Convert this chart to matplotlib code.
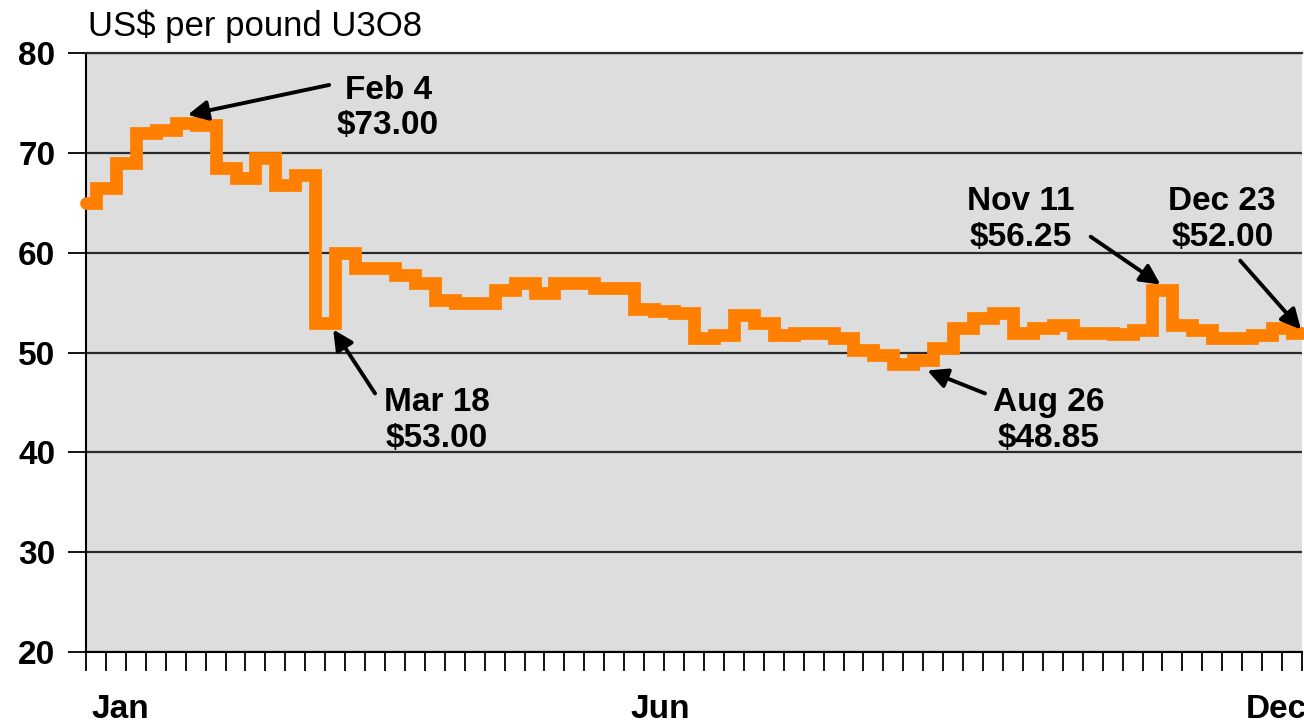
import numpy as np
import matplotlib
matplotlib.use('Agg')
import matplotlib.pyplot as plt

plt.rcParams['font.family'] = ['Liberation Sans', 'DejaVu Sans']

# spot price readings, one per tick, Jan -> Dec
price = [65.0, 66.5, 69.0, 72.0, 72.25, 73.0, 72.75, 68.5, 67.5, 69.5,
         66.75, 67.75, 53.0, 60.0, 58.5, 58.5, 57.75, 57.0, 55.25, 55.0,
         55.0, 56.25, 57.0, 56.0, 57.0, 57.0, 56.5, 56.5, 54.4, 54.2,
         54.0, 51.5, 51.75, 53.75, 53.0, 51.75, 52.0, 52.0, 51.5, 50.25,
         49.75, 48.85, 49.25, 50.5, 52.5, 53.5, 54.0, 52.0, 52.5, 52.75,
         52.0, 52.0, 51.85, 52.25, 56.25, 52.75, 52.25, 51.5, 51.5, 51.75,
         52.5, 52.0]
month_labels = ['Jan', 'Jun', 'Dec']
month_pos = [1.7, 28.8, 59.7]
y_ticks = [20, 30, 40, 50, 60, 70, 80]

callouts = ['Feb 4\n$73.00', 'Mar 18\n$53.00', 'Aug 26\n$48.85',
            'Nov 11\n$56.25', 'Dec 23\n$52.00']

x = np.arange(len(price))

fig = plt.figure(figsize=(13.04, 7.23), dpi=100)
ax = fig.add_axes([86/1304, 1 - 652/723, 1216/1304, 599/723])
ax.set_facecolor('#DDDDDD')

ax.plot(x, price, drawstyle='steps-mid', color='#FF8000', lw=9.2,
        solid_joinstyle='miter', solid_capstyle='round', clip_on=False, zorder=3)

ax.set_xlim(0, len(price) - 1)
ax.set_ylim(20, 80)
ax.set_yticks(y_ticks)
ax.set_xticks(x)
ax.set_xticklabels([])
ax.set_xticks(month_pos, month_labels, minor=True)
ax.yaxis.grid(True, color='#2a2a2a', lw=1.6)
ax.set_axisbelow(True)

ax.spines['right'].set_visible(False)
ax.spines['top'].set_color('#2a2a2a')
ax.spines['top'].set_linewidth(1.6)
ax.spines['left'].set_linewidth(1.5)
ax.spines['bottom'].set_linewidth(1.5)

ax.tick_params(axis='y', which='major', length=13, width=1.3, pad=9,
               labelsize=24)
ax.tick_params(axis='x', which='major', direction='out', length=14, width=1.3)
ax.tick_params(axis='x', which='minor', length=0, pad=30, labelsize=24)
for lab in ax.get_yticklabels() + ax.get_xticklabels(minor=True):
    lab.set_fontweight('bold')

fig.text(88/1304, 1 - 36/723, 'US$ per pound U3O8', fontsize=25,
         va='baseline', ha='left')

# callout text (centre of block) and arrows (tail -> tip), data coords
text_xy = [(15.15, 74.5), (17.6, 43.2), (48.3, 43.2), (46.9, 63.3), (57.0, 63.3)]
tails = [(12.2, 76.8), (14.5, 45.9), (45.1, 45.9), (50.4, 61.6), (57.9, 59.2)]
tips = [(5.1, 73.8), (12.4, 52.3), (42.2, 48.2), (53.9, 56.8), (60.95, 52.3)]

for txt, pos, tail, tip in zip(callouts, text_xy, tails, tips):
    ax.text(pos[0], pos[1], txt, ha='center', va='center', fontsize=24,
            fontweight='bold', linespacing=1.2, zorder=5)
    ax.annotate('', xy=tip, xytext=tail, annotation_clip=False,
                arrowprops=dict(arrowstyle='-|>', color='black', lw=2.8,
                                mutation_scale=30, shrinkA=0, shrinkB=0),
                zorder=5)

fig.savefig('out.png', dpi=100)
